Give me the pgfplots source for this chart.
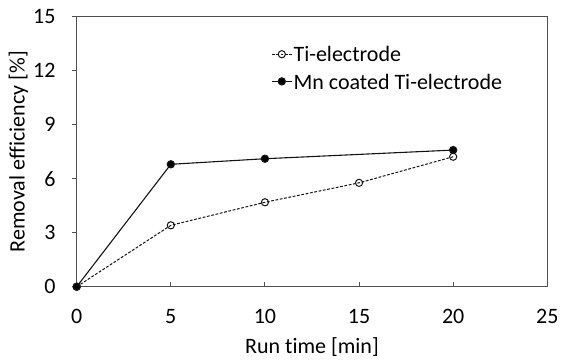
\documentclass[border=0pt]{standalone}
\usepackage{pgfplots}
\pgfplotsset{compat=1.18}
\usepackage{fontspec}
\setmainfont{Carlito}[Ligatures=NoCommon]
\definecolor{frame}{RGB}{80,80,80}
\definecolor{ln}{RGB}{20,20,20}
\begin{document}
\fontsize{22bp}{26bp}\selectfont
\begin{tikzpicture}
\begin{axis}[
  name=ax,
  scale only axis,
  width=470.6bp, height=270bp,
  xmin=0, xmax=25, ymin=0, ymax=15,
  xtick={0,5,...,25}, ytick={0,3,...,15},
  xtick pos=bottom, ytick pos=left,
  xtick align=inside, ytick align=outside,
  major tick length=5bp,
  axis line style={frame, line width=1bp},
  tick style={frame, line width=0.9bp},
  /pgf/number format/assume math mode=true,
  tick label style={font=\fontsize{22bp}{26bp}\selectfont, text=black},
  label style={font=\fontsize{22bp}{26bp}\selectfont},
  xticklabel style={anchor=north, inner sep=0pt, yshift=-22bp},
  yticklabel style={anchor=east, inner sep=0pt, xshift=-16bp},
  xlabel={Run time [min]},
  ylabel={Removal efficiency [\%]},
  xlabel style={at={(axis description cs:0.5,0)}, anchor=base, yshift=-66.6bp},
  ylabel style={at={(axis description cs:-0.1237,0.5)}, anchor=center},
  clip=false,
  legend style={draw=none, fill=none, at={(0.413,0.8107)}, anchor=west,
    font=\fontsize{22bp}{26bp}\selectfont, row sep=9.5bp, inner sep=0pt,
    nodes={inner sep=1.2bp, text depth=0pt}},
  legend cell align=left,
  legend image code/.code={\draw[mark repeat=2,mark phase=2] plot coordinates {(0bp,0bp)(10bp,0bp)(20bp,0bp)};},
]
\addplot[ln, line width=1bp, dash pattern=on 2.8bp off 1.6bp, mark=o, mark size=3.6bp, mark options={solid, fill=white, line width=1bp}]
  coordinates {(0,0) (5,3.41) (10,4.69) (15,5.77) (20,7.22)};
\addlegendentry{Ti-electrode}
\addplot[ln, line width=1.1bp, mark=*, mark size=3.6bp, mark options={solid, fill=black}]
  coordinates {(0,0) (5,6.8) (10,7.11) (20,7.59)};
\addlegendentry{Mn coated Ti-electrode}
\end{axis}
\path ([xshift=-76.7bp,yshift=-70.3bp]ax.south west) ([xshift=22.7bp,yshift=16.7bp]ax.north east);
\end{tikzpicture}
\end{document}
